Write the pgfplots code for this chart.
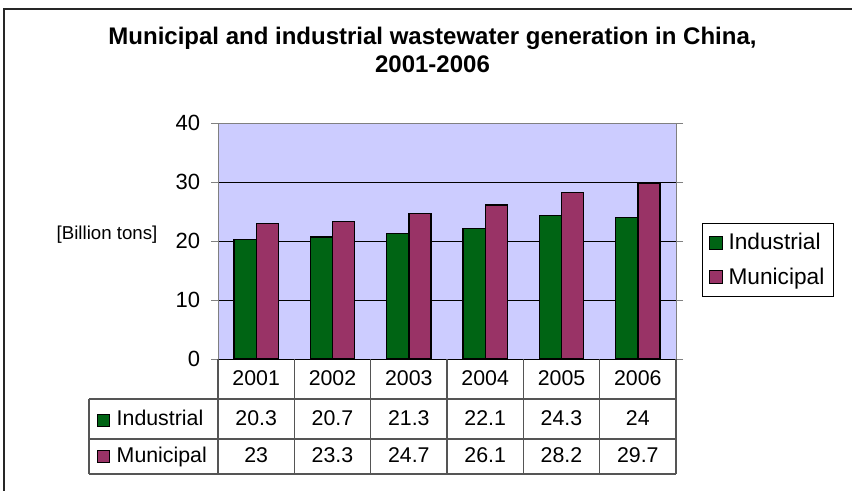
\documentclass[border=0pt]{standalone}
\usepackage{pgfplots}
\pgfplotsset{compat=1.18}
\usepackage{fontspec}
\setmainfont{Liberation Sans}
\definecolor{indgreen}{HTML}{006414}
\definecolor{munmaroon}{HTML}{993366}
\definecolor{plotbg}{HTML}{CCCCFF}
\definecolor{tableline}{HTML}{555555}
\newcommand{\swatch}[1]{{\setlength{\fboxsep}{0pt}\setlength{\fboxrule}{0.8pt}\fcolorbox{black}{#1}{\rule{0pt}{8pt}\rule{8pt}{0pt}}}}
\pgfplotsset{
  ybar legend/.style={/pgfplots/legend image code/.code={\draw[##1, draw=black, line width=0.8pt] (0pt,-4.875pt) rectangle (9.75pt,4.875pt);}},
}
\begin{document}
\begin{tikzpicture}
\begin{scope}[x=0.75pt,y=0.75pt]
\path[use as bounding box] (0,0) rectangle (852,490);
\draw[line width=1pt, black!85] (4,-2) -- (4,481) -- (854,481);
\node[anchor=base, font=\bfseries\fontsize{18}{21}\selectfont] at (432.5,445) {Municipal and industrial wastewater generation in China,};
\node[anchor=base, font=\bfseries\fontsize{18}{21}\selectfont] at (432.5,417) {2001-2006};
\node[font=\fontsize{14}{16}\selectfont] at (107,255) {[Billion tons]};
\end{scope}
\begin{axis}[
  at={(163.5pt,98.25pt)}, anchor=south west,
  scale only axis, width=343.5pt, height=177pt,
  xmin=-0.5, xmax=5.5, ymin=0, ymax=40,
  ybar, bar width=0.292,
  every axis plot post/.append style={/pgfplots/legend image code/.code={\draw[#1, draw=black, line width=0.8pt] (0pt,-4.875pt) rectangle (9.75pt,4.875pt);}},
  axis background/.style={fill=plotbg},
  axis line style={draw=gray, line width=0.75pt},
  ytick={0,10,20,30,40},
  minor ytick={10,20,30},
  yminorgrids, minor grid style={black, line width=0.75pt},
  minor tick length=0pt,
  tick align=outside, major tick length=5.25pt,
  ytick style={draw=gray, line width=0.75pt},
  xtick=\empty,
  yticklabel style={font=\fontsize{16.5}{19}\selectfont, /pgf/number format/assume math mode=true, anchor=east, inner sep=0pt, xshift=-8pt},
  clip=false,
  legend style={at={(1.0568,0.5763)}, anchor=north west, draw=black, line width=0.75pt,
    font=\fontsize{17}{20}\selectfont, inner xsep=5pt, inner ysep=5.4pt, row sep=8pt,
    cells={anchor=west},
    /tikz/every odd column/.append style={column sep=2pt}},
]
\addplot[fill=indgreen, draw=black, line width=1pt, bar shift=-0.146] coordinates {(0,20.3) (1,20.7) (2,21.3) (3,22.1) (4,24.3) (5,24)};
\addplot[fill=munmaroon, draw=black, line width=1pt, bar shift=0.146] coordinates {(0,23) (1,23.3) (2,24.7) (3,26.1) (4,28.2) (5,29.7)};
\legend{Industrial, Municipal}
\draw[black, line width=0.75pt] (axis cs:-0.5,0) -- (axis cs:5.5,0);
\end{axis}
\begin{scope}[x=0.75pt,y=0.75pt]
\draw[tableline, line width=0.8pt] (89,91) -- (676,91);
\draw[tableline, line width=0.8pt] (89,51) -- (676,51);
\draw[tableline, line width=0.8pt] (89,16) -- (676,16);
\draw[tableline, line width=0.8pt] (89,91) -- (89,16);
\foreach \k in {0,...,6} {\draw[tableline, line width=0.8pt] ({218+458/6*\k},131) -- ({218+458/6*\k},16);}
\foreach \y [count=\i from 0] in {2001,2002,2003,2004,2005,2006} {\node[anchor=base, font=\fontsize{16}{19}\selectfont] at ({218+458/6*(\i+0.5)},105) {\y};}
\foreach \v [count=\i from 0] in {20.3,20.7,21.3,22.1,24.3,24} {\node[anchor=base, font=\fontsize{16}{19}\selectfont] at ({218+458/6*(\i+0.5)},64.3) {\v};}
\foreach \v [count=\i from 0] in {23,23.3,24.7,26.1,28.2,29.7} {\node[anchor=base, font=\fontsize{16}{19}\selectfont] at ({218+458/6*(\i+0.5)},28) {\v};}
\node[anchor=base west, inner sep=0pt, font=\fontsize{16}{19}\selectfont] at (97,64.3) {\swatch{indgreen}\hspace{5pt}Industrial};
\node[anchor=base west, inner sep=0pt, font=\fontsize{16}{19}\selectfont] at (97,28) {\swatch{munmaroon}\hspace{5pt}Municipal};
\end{scope}
\end{tikzpicture}
\end{document}
